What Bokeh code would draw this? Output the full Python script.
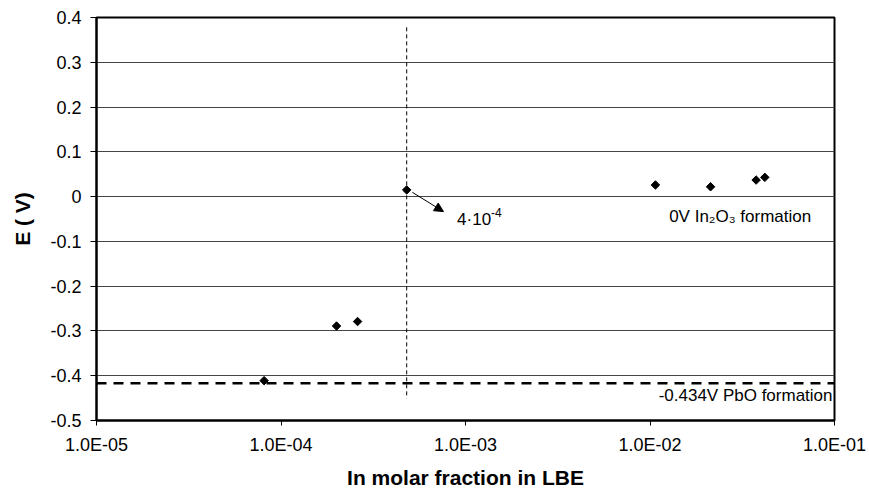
import math
from bokeh.plotting import figure
from bokeh.models import (ColumnDataSource, FixedTicker, CustomJSTickFormatter,
                          Arrow, NormalHead, Label, Span)
from bokeh.embed import file_html
from bokeh.resources import INLINE

# ---- data ----
x_in = [8.1e-5, 2.0e-4, 2.6e-4, 4.8e-4, 1.07e-2, 2.13e-2, 3.76e-2, 4.19e-2]
E_V = [-0.411, -0.289, -0.279, 0.015, 0.026, 0.022, 0.037, 0.043]

pbo_level = [-0.417]
limit_x = [4.8e-4]
limit_y = [0.378, -0.451]

x_ticks = [1e-5, 1e-4, 1e-3, 1e-2, 1e-1]
x_tick_labels = ["1.0E-05", "1.0E-04", "1.0E-03", "1.0E-02", "1.0E-01"]
y_ticks = [-0.5, -0.4, -0.3, -0.2, -0.1, 0.0, 0.1, 0.2, 0.3, 0.4]
y_tick_labels = ["-0.5", "-0.4", "-0.3", "-0.2", "-0.1", "0", "0.1", "0.2", "0.3", "0.4"]

FONT = "Liberation Sans"

p = figure(width=869, height=492, x_axis_type="log",
           x_range=(1e-5, 1e-1), y_range=(-0.5, 0.4),
           output_backend="svg", toolbar_location=None,
           min_border_left=96, min_border_right=35,
           min_border_top=17, min_border_bottom=72)

p.background_fill_color = "white"
p.border_fill_color = "white"
p.outline_line_color = "black"
p.outline_line_width = 2

# grids
p.xgrid.grid_line_color = None
p.ygrid.grid_line_color = "#444444"
p.ygrid.grid_line_width = 1
p.ygrid.ticker = FixedTicker(ticks=y_ticks)

# axes
p.xaxis.ticker = FixedTicker(ticks=x_ticks, minor_ticks=[])
p.yaxis.ticker = FixedTicker(ticks=y_ticks, minor_ticks=[])
p.xaxis.formatter = CustomJSTickFormatter(args=dict(tvals=x_ticks, tlabels=x_tick_labels), code="""
    for (let i = 0; i < tvals.length; i++) {
        if (Math.abs(Math.log10(tick) - Math.log10(tvals[i])) < 1e-6) return tlabels[i];
    }
    return "";
""")
p.yaxis.formatter = CustomJSTickFormatter(args=dict(tvals=y_ticks, tlabels=y_tick_labels), code="""
    for (let i = 0; i < tvals.length; i++) {
        if (Math.abs(tick - tvals[i]) < 1e-6) return tlabels[i];
    }
    return "";
""")

for ax in (p.xaxis[0], p.yaxis[0]):
    ax.axis_line_color = "black"
    ax.axis_line_width = 2
    ax.major_tick_line_color = "black"
    ax.major_tick_line_width = 1
    ax.major_tick_in = 0
    ax.minor_tick_line_color = None
    ax.major_label_text_font = FONT
    ax.major_label_text_font_size = "18px"
    ax.major_label_text_color = "black"
    ax.axis_label_text_font = FONT
    ax.axis_label_text_font_style = "bold"
    ax.axis_label_text_font_size = "21px"
    ax.axis_label_text_color = "black"

p.xaxis.major_tick_out = 5
p.yaxis.major_tick_out = 6
p.xaxis.major_label_standoff = 9
p.yaxis.major_label_standoff = 9
p.xaxis.axis_label = "In molar fraction in LBE"
p.yaxis.axis_label = "E ( V)"
p.xaxis.axis_label_standoff = 8
p.yaxis.axis_label_standoff = 13

# PbO formation dashed line
p.add_layout(Span(location=pbo_level[0], dimension="width", line_color="black",
                  line_width=2.5, line_dash="10 7"))

# vertical dotted solubility line
p.line(x=[limit_x[0], limit_x[0]], y=limit_y, line_color="black",
       line_width=1, line_dash="4 3")

# data points
src = ColumnDataSource(dict(x=x_in, y=E_V))
p.scatter(x="x", y="y", source=src, marker="square", angle=math.pi / 4,
          size=6, fill_color="black", line_color="black")

# arrow annotation
p.add_layout(Arrow(end=NormalHead(size=9, fill_color="black", line_color="black"),
                   x_start=5.15e-4, y_start=0.0096, x_end=7.6e-4, y_end=-0.0335,
                   line_color="black", line_width=1))

p.add_layout(Label(x=9.0e-4, y=-0.051, text="4·10", text_font=FONT,
                   text_font_size="17px", text_baseline="middle", text_color="black"))
p.add_layout(Label(x=9.0e-4, y=-0.051, x_offset=34, y_offset=7, text="-4", text_font=FONT,
                   text_font_size="12px", text_baseline="middle", text_color="black"))
p.add_layout(Label(x=1.27e-2, y=-0.045, text="0V In₂O₃ formation", text_font=FONT,
                   text_font_size="17px", text_baseline="middle", text_color="black"))
p.add_layout(Label(x=1e-1, y=-0.445, x_offset=-2, text="-0.434V PbO formation",
                   text_font=FONT, text_font_size="17px", text_baseline="middle",
                   text_align="right", text_color="black"))

open("out.html", "w").write(file_html(p, INLINE))
